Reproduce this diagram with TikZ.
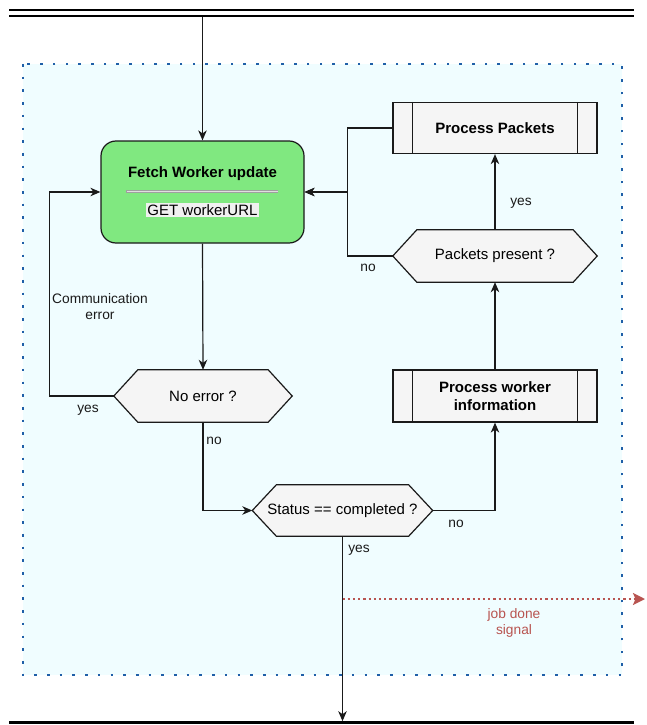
\documentclass[tikz,border=0pt]{standalone}
\usepackage{fontspec}
\setmainfont{Liberation Sans}
\usetikzlibrary{arrows.meta,calc}
\pgfdeclarelayer{bg}
\pgfsetlayers{bg,main}
\definecolor{linec}{HTML}{1A1A1A}
\definecolor{regionfill}{HTML}{F0FDFF}
\definecolor{regiondot}{HTML}{1F5FA8}
\definecolor{greenfill}{HTML}{80E880}
\definecolor{procfill}{HTML}{F5F5F5}
\definecolor{getfill}{HTML}{F0F0F0}
\definecolor{signalred}{HTML}{B85450}
\begin{document}
\begin{tikzpicture}[x=1pt,y=-1pt,
  arr/.style={draw=linec, line width=1.2pt, -{Stealth[length=10pt,width=8.5pt,inset=3pt]}},
  conn/.style={draw=linec, line width=1.2pt},
  lbl/.style={font=\fontsize{13.75}{16}\selectfont, text=linec, inner sep=0pt, align=center},
  txt/.style={font=\fontsize{15}{18}\selectfont, align=center, text=black},
  proc/.style={draw=linec, line width=1.2pt, fill=procfill, minimum width=204pt, minimum height=52pt, inner sep=0pt, align=center, font=\fontsize{15}{18}\selectfont\bfseries},
  hexnode/.style={minimum height=52pt, inner sep=0pt, txt},
  hexshape/.style={draw=linec, line width=1.2pt, fill=procfill},
  region/.style={draw=regiondot, fill=regionfill, line width=2.6pt, dash pattern=on 2.6pt off 10.1pt},
  bar/.style={draw=black, line width=2.4pt},
  signal/.style={draw=signalred, line width=2.2pt, dash pattern=on 2.2pt off 3pt, -{Stealth[length=12pt,width=12pt,inset=2.5pt]}}
]
\useasboundingbox (0,0) rectangle (646,725);

\begin{pgfonlayer}{bg}
  \draw[region] (23,64) rectangle (622,675);
\end{pgfonlayer}

% top and bottom bars
\draw[bar] (9,10) -- (634,10);
\draw[bar] (9,16) -- (634,16);
\draw[bar] (9,722.5) -- (634,722.5);

% main fetch box
\node[draw=linec, line width=1.2pt, fill=greenfill, rounded corners=15pt,
      minimum width=203pt, minimum height=102pt] (fetch) at (202.5,192) {};
\node[txt, font=\fontsize{15}{18}\selectfont\bfseries] (ftitle) at (202.5,174) {Fetch Worker update};
\draw[line width=2.6pt, gray!75] (126,191.5) -- (278,191.5);
\draw[line width=0.9pt, gray!25] (126.5,191.5) -- (277.5,191.5);
\node[txt, fill=getfill, inner sep=1pt] (fget) at (202.5,210) {GET workerURL};

% process boxes
\node[proc, minimum height=51pt] (pp) at (495,128) {Process Packets};
\node[proc] (pwi) at (495,396) {Process worker\\information};
\foreach \n in {pp,pwi}{
  \draw[conn] ($(\n.north west)+(20,0)$) -- ($(\n.south west)+(20,0)$);
  \draw[conn] ($(\n.north east)+(-20,0)$) -- ($(\n.south east)+(-20,0)$);
}

% decision hexagons
\node[hexnode, minimum width=204pt] (pkt) at (495,256) {Packets present ?};
\node[hexnode, minimum width=178pt] (noerr) at (203,396) {No error ?};
\node[hexnode, minimum width=180pt, minimum height=51pt] (status) at (342.5,510.5) {Status == completed ?};
\begin{pgfonlayer}{bg}
\foreach \n in {pkt,noerr,status}{
  \draw[hexshape] (\n.west) -- ($(\n.north west)+(24,0)$) -- ($(\n.north east)+(-24,0)$)
     -- (\n.east) -- ($(\n.south east)+(-24,0)$) -- ($(\n.south west)+(24,0)$) -- cycle;
}
\end{pgfonlayer}

% coordinates for free ends
\coordinate (topin) at (202.5,17);
\coordinate (botout) at (342.5,721.2);
\coordinate (jd) at (342.5,599);
\coordinate (jdend) at (645,599);

% connectors
\draw[arr] (topin) -- (fetch.north);
\draw[arr] (fetch.south) -- (noerr.north);
\draw[arr] (noerr.west) -- ++(-64,0) |- (fetch.west);
\draw[arr] (pp.west) -- ++(-45,0) |- (fetch.east);
\draw[arr] (pkt.west) -- ++(-45,0) |- (fetch.east);
\draw[arr] (pkt.north) -- (pp.south);
\draw[arr] (pwi.north) -- (pkt.south);
\draw[arr] (noerr.south) |- (status.west);
\draw[arr] (status.east) -| (pwi.south);
\draw[arr] (status.south) -- (botout);
\draw[signal] (jd) -- (jdend);

% labels
\node[lbl] (lcomm) at (100,307) {Communication\\error};
\node[lbl] (lyes1) at (88,410) {yes};
\node[lbl] (lno1) at (214,441) {no};
\node[lbl] (lno2) at (456,524) {no};
\node[lbl] (lyes2) at (359,550) {yes};
\node[lbl] (lyes3) at (521,203) {yes};
\node[lbl] (lno3) at (368,268) {no};
\node[lbl, text=signalred] (ljd) at (514,623) {job done\\signal};
\end{tikzpicture}
\end{document}
